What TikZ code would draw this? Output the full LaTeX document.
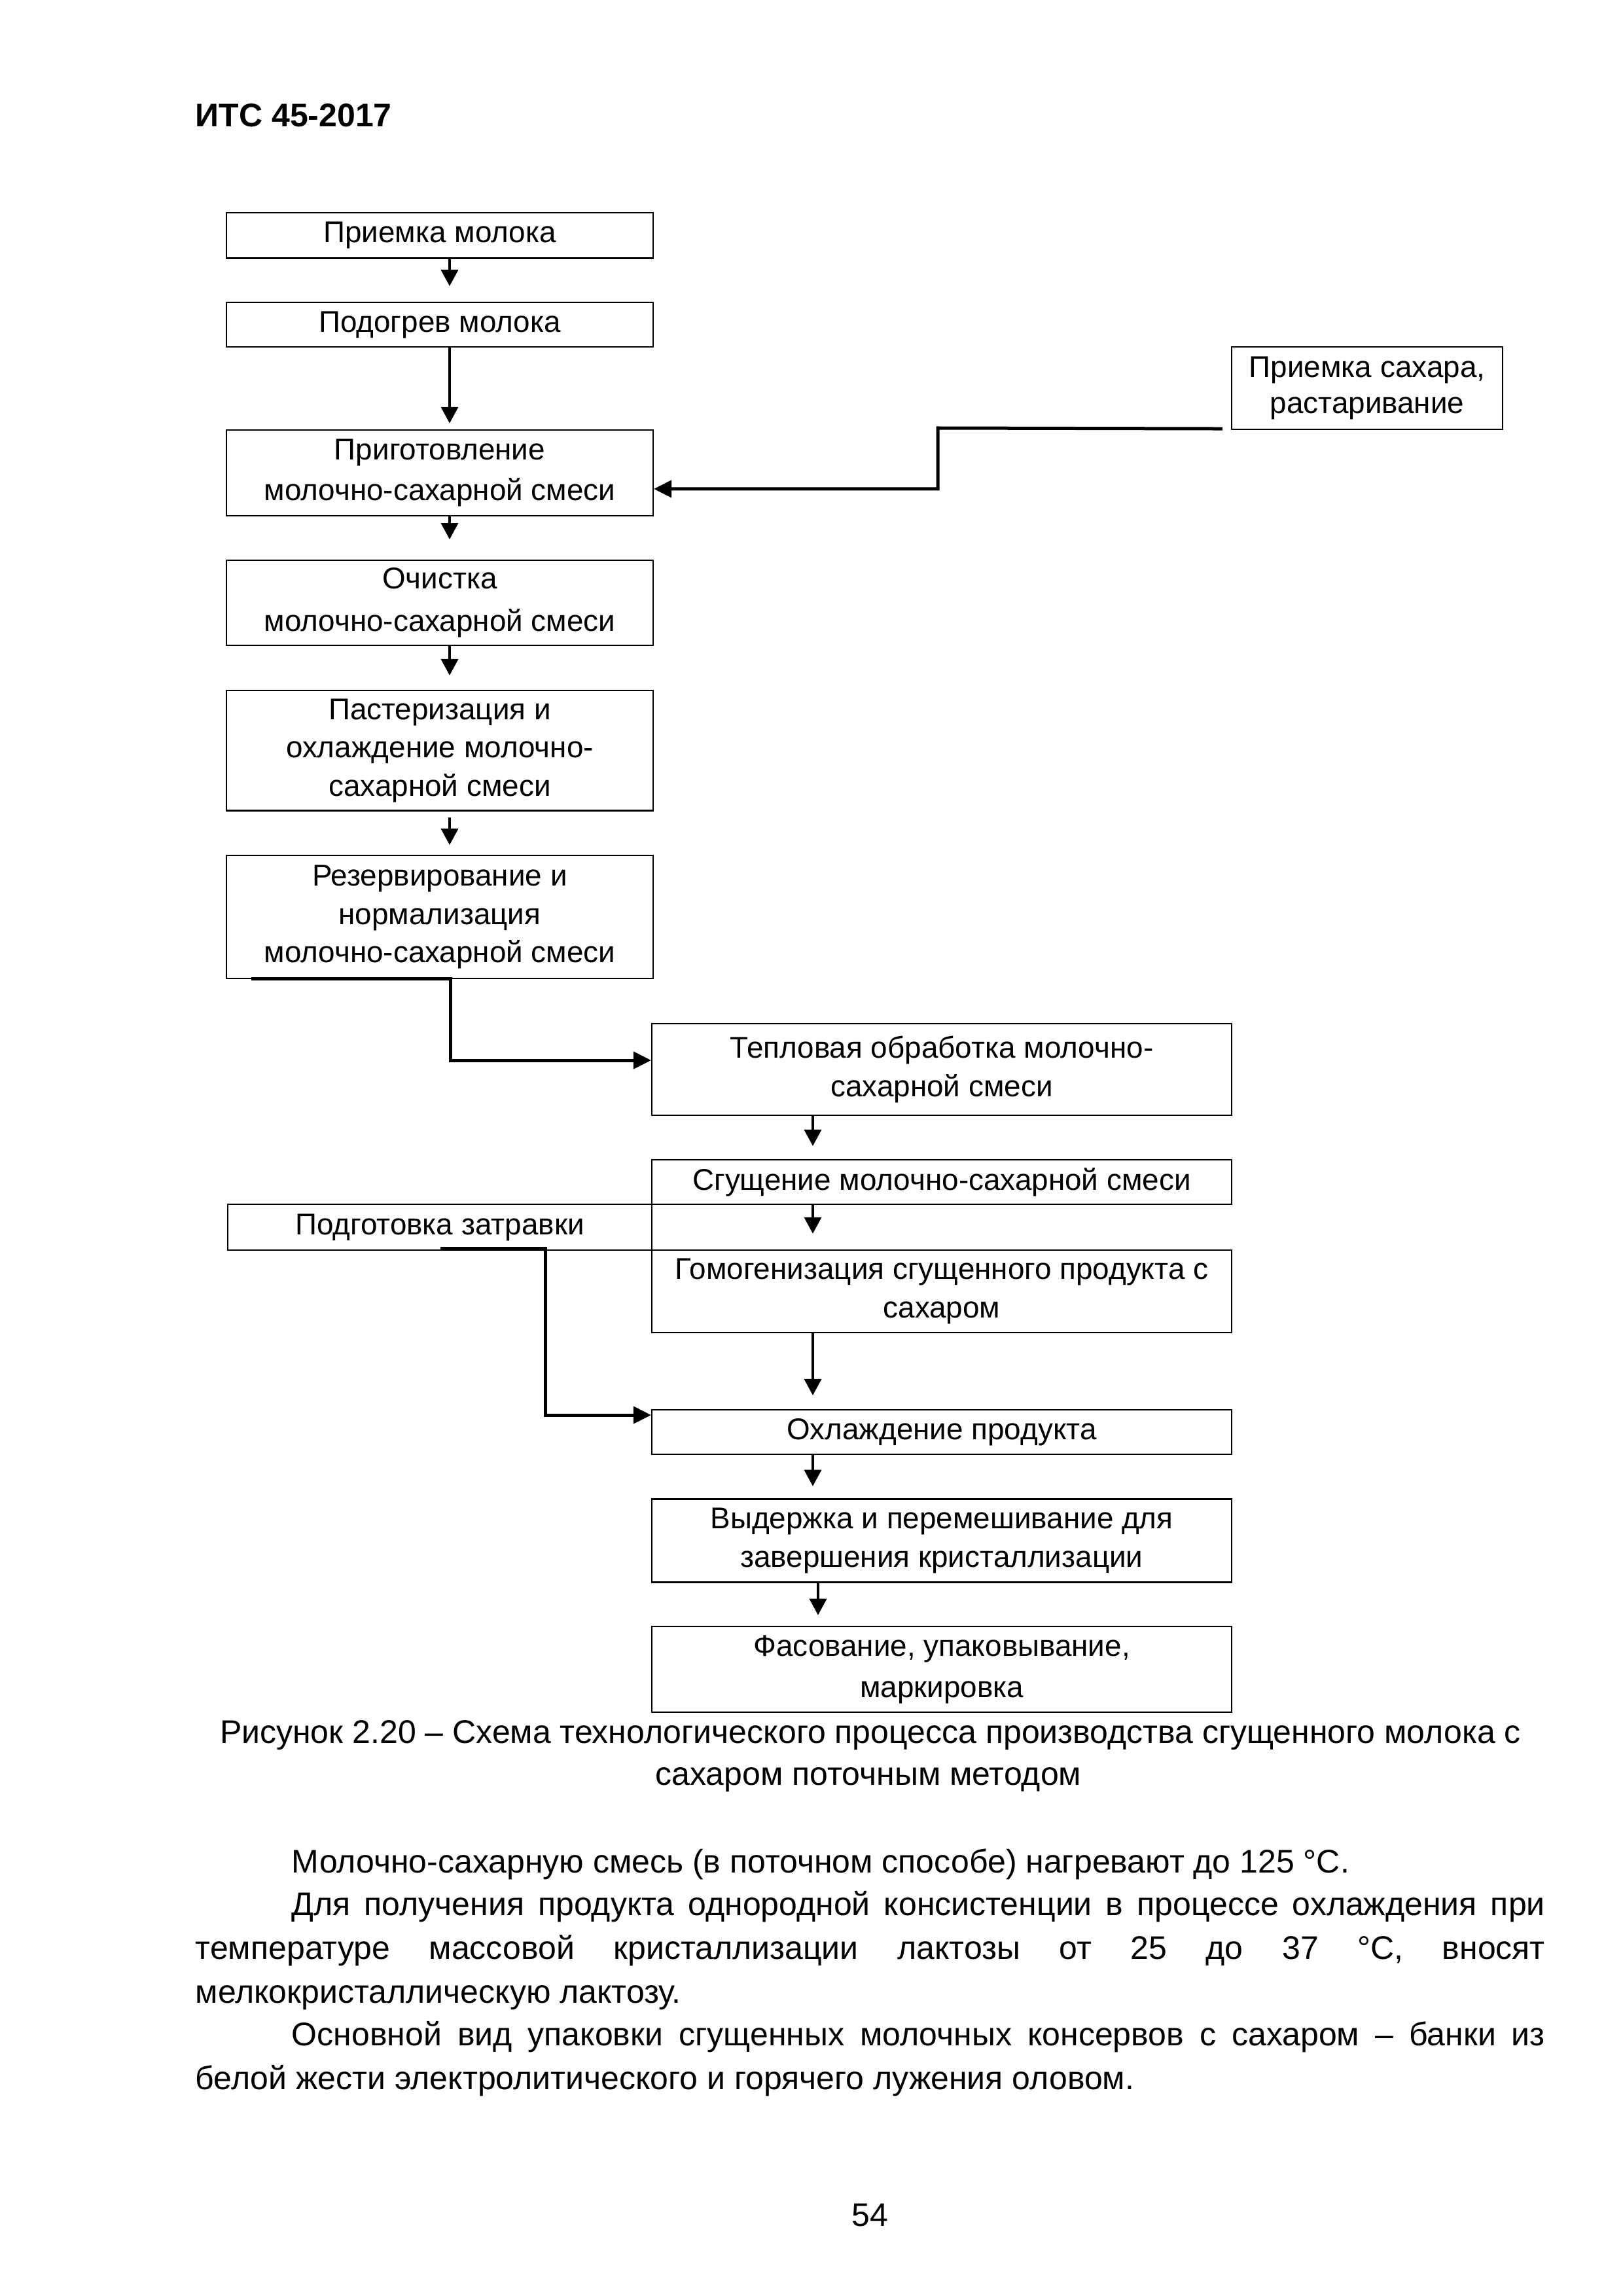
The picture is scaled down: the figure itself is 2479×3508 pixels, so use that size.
\documentclass[tikz,border=0pt]{standalone}
\usepackage{fontspec}
\setmainfont{Liberation Sans}
\usetikzlibrary{arrows.meta,calc}
\begin{document}
\begin{tikzpicture}[x=0.24pt,y=-0.24pt,
  box/.style={draw,line width=0.5pt,inner sep=0pt,align=center,font=\fontsize{11}{14}\selectfont},
  arr/.style={line width=1pt,-{Triangle[length=6pt,width=6.2pt]}},
  conn/.style={line width=1.2pt,-{Triangle[length=6.5pt,width=6.2pt]}},
  txt/.style={inner sep=0pt,font=\fontsize{12}{14}\selectfont,anchor=base west},
  ctxt/.style={inner sep=0pt,font=\fontsize{12}{14}\selectfont,anchor=base}]
\useasboundingbox[fill=white] (0,0) rectangle (2479,3508);

\node[inner sep=0pt,anchor=base west,font=\fontsize{12}{14}\selectfont\bfseries] (head) at (298,194) {ИТС 45-2017};

% left column
\node[box,minimum width=156.48pt,minimum height=16.68pt] (b1) at (672,359.75) {Приемка молока};
\node[box,minimum width=156.48pt,minimum height=16.18pt] (b2) at (672,496.1) {Подогрев молока};
\node[box,minimum width=156.48pt,minimum height=31.44pt] (b3) at (672,722.5) {Приготовление\\[0.9pt]молочно-сахарной смеси};
\node[box,minimum width=156.48pt,minimum height=31.2pt] (b4) at (672,921) {Очистка\\[1.7pt]молочно-сахарной смеси};
\node[box,minimum width=156.48pt,minimum height=44.04pt] (b5) at (672,1146.75) {Пастеризация и\\охлаждение молочно-\\сахарной смеси};
\node[box,minimum width=156.48pt,minimum height=45.12pt] (b6) at (672,1401) {Резервирование и\\нормализация\\молочно-сахарной смеси};

% sugar
\node[box,minimum width=99.36pt,minimum height=30.24pt] (sug) at (2089,593) {Приемка сахара,\\[-0.6pt]растаривание};

% right column
\node[box,minimum width=212.64pt,minimum height=33.6pt] (b7) at (1439,1634) {Тепловая обработка молочно-\\сахарной смеси};
\node[box,minimum width=212.64pt,minimum height=16.32pt] (b8) at (1439,1806) {Сгущение молочно-сахарной смеси};
\node[box,minimum width=155.52pt,minimum height=16.8pt] (b9) at (672,1875) {Подготовка затравки};
\node[box,minimum width=212.64pt,minimum height=30.24pt] (b10) at (1439,1973) {Гомогенизация сгущенного продукта с\\сахаром};
\node[box,minimum width=212.64pt,minimum height=16.44pt] (b11) at (1439,2188) {Охлаждение продукта};
\node[box,minimum width=212.64pt,minimum height=30.48pt] (b12) at (1439,2354) {Выдержка и перемешивание для\\завершения кристаллизации};
\node[box,minimum width=212.64pt,minimum height=31.54pt] (b13) at (1439,2550.7) {Фасование, упаковывание,\\[1.2pt]маркировка};

% arrow columns
\coordinate (ax) at (687,0);
\coordinate (bx) at (1242,0);
\coordinate (cx) at (1250,0);

\draw[arr,shorten >=5.8pt] (b1.south -| ax) -- (b2.north -| ax);
\draw[arr,shorten >=2.2pt] (b2.south -| ax) -- (b3.north -| ax);
\draw[arr,shorten >=7.4pt] (b3.south -| ax) -- (b4.north -| ax);
\draw[arr,shorten >=5.3pt] (b4.south -| ax) -- (b5.north -| ax);
\draw[arr,shorten <=2.3pt,shorten >=3.6pt] (b5.south -| ax) -- (b6.north -| ax);

\draw[arr,shorten >=4.8pt] (b7.south -| bx) -- (b8.north -| bx);
\draw[arr,shorten >=5.8pt] (b8.south -| bx) -- (b10.north -| bx);
\draw[arr,shorten >=5pt] (b10.south -| bx) -- (b11.north -| bx);
\draw[arr,shorten >=4.5pt] (b11.south -| bx) -- (b12.north -| bx);
\draw[arr,shorten >=3.9pt] (b12.south -| cx) -- (b13.north -| cx);

% sugar connector
\coordinate (s0) at ($(sug.south west)+(-13,-2)$);
\draw[conn] (s0) -- (1433,654) |- ($(b3.east)+(0,24.5)$);

% from b6 to b7
\coordinate (j6) at ($(b6.south west)+(39,-1)$);
\draw[conn] (j6) -- ++(305,0) |- ($(b7.west)+(0,-14)$);

% from b9 to b11
\coordinate (j9) at ($(b9.south)+(0.5,-4)$);
\draw[conn] (j9) -- ++(161,0) |- ($(b11.west)+(0,-26)$);

% caption
\node[ctxt] (cap1) at (1330,2663) {Рисунок 2.20 – Схема технологического процесса производства сгущенного молока с};
\node[ctxt] (cap2) at (1327,2727) {сахаром поточным методом};

% body text
\node[txt] (p1) at (445,2861) {Молочно-сахарную смесь (в поточном способе) нагревают до 125 °С.};
\node[txt] (p2) at (445,2926) {\makebox[459.6pt][s]{Для получения продукта однородной консистенции в процессе охлаждения при}};
\node[txt] (p3) at (298,2993) {\makebox[494.9pt][s]{температуре массовой кристаллизации лактозы от 25 до 37 °С, вносят}};
\node[txt] (p4) at (298,3060) {мелкокристаллическую лактозу.};
\node[txt] (p5) at (445,3125) {\makebox[459.6pt][s]{Основной вид упаковки сгущенных молочных консервов с сахаром – банки из}};
\node[txt] (p6) at (298,3192) {белой жести электролитического и горячего лужения оловом.};

\node[ctxt] (pg) at (1329,3401) {54};
\end{tikzpicture}
\end{document}
